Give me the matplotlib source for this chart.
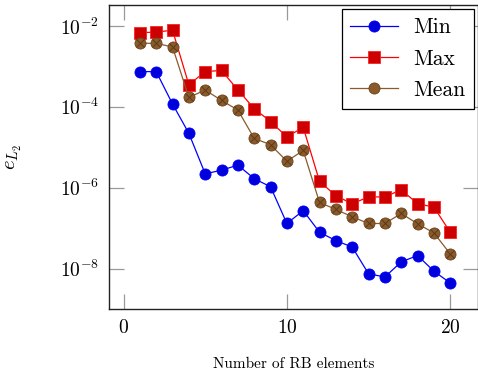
import numpy as np
import matplotlib
matplotlib.use("Agg")
import matplotlib.pyplot as plt

plt.rcParams['font.family'] = 'serif'
plt.rcParams['font.serif'] = ['cmr10', 'DejaVu Serif']
plt.rcParams['mathtext.fontset'] = 'cm'
plt.rcParams['axes.formatter.use_mathtext'] = True

n_rb = list(range(1, 21))
err_min = [7.4e-4, 7.4e-4, 1.17e-4, 2.2e-5, 2.2e-6, 2.7e-6, 3.6e-6, 1.67e-6, 1.05e-6, 1.3e-7,
           2.7e-7, 7.9e-8, 4.9e-8, 3.4e-8, 7.4e-9, 6.2e-9, 1.46e-8, 2.1e-8, 8.6e-9, 4.4e-9]
err_max = [6.8e-3, 7.0e-3, 7.8e-3, 3.5e-4, 7.4e-4, 7.9e-4, 2.6e-4, 9.0e-5, 4.3e-5, 1.8e-5,
           3.1e-5, 1.43e-6, 6.3e-7, 4.0e-7, 5.9e-7, 5.9e-7, 8.9e-7, 4.0e-7, 3.3e-7, 7.9e-8]
err_mean = [3.7e-3, 3.7e-3, 3.0e-3, 1.7e-4, 2.6e-4, 1.43e-4, 8.3e-5, 1.65e-5, 1.15e-5, 4.5e-6,
            8.3e-6, 4.3e-7, 2.9e-7, 1.9e-7, 1.3e-7, 1.3e-7, 2.3e-7, 1.28e-7, 7.6e-8, 2.3e-8]

fig = plt.figure(figsize=(4.78, 3.75), dpi=100)
ax = fig.add_axes([0.228, 0.176, 0.772, 0.811])

ax.plot(n_rb, err_min, color='#0000FF', lw=0.9, marker='o', ms=8,
        mfc='#0000DD', mec='#0000FF', mew=0.6, label='Min')
ax.plot(n_rb, err_max, color='#FF0000', lw=0.9, marker='s', ms=8,
        mfc='#CC0000', mec='#FF2020', mew=0.6, label='Max')
ax.plot(n_rb, err_mean, color='#8B5A2B', lw=0.9, marker='o', ms=8,
        mfc='#8B5A2B', mec='#6B4420', mew=0.6, label='Mean')
ax.plot(n_rb, err_mean, ls='none', marker='x', ms=5.5, mec='#5A3A1A', mew=0.7)

ax.set_yscale('log')
ax.set_xlim(-0.89, 21.7)
ax.set_ylim(1.0e-9, 3.3e-2)
ax.set_xticks([0, 10, 20])
ax.set_yticks([1e-2, 1e-4, 1e-6, 1e-8])
ax.minorticks_off()
ax.tick_params(direction='in', length=11, width=0.9, color='#999999',
               top=True, right=True, labelsize=14, pad=7)

for s in ax.spines.values():
    s.set_linewidth(1.0)
    s.set_color('#222222')

ax.set_xlabel('Number of RB elements', fontsize=11, labelpad=15)
ax.set_ylabel(r'$e_{L_2}$', fontsize=15, labelpad=26)

handles, labels = ax.get_legend_handles_labels()
leg = ax.legend(handles[:3], labels[:3], loc='upper right', fontsize=15.5,
                fancybox=False, edgecolor='black', framealpha=1,
                borderaxespad=0.2, handlelength=2.2, handletextpad=0.7,
                labelspacing=0.55, borderpad=0.4)
leg.get_frame().set_linewidth(0.9)

fig.savefig('out.png', dpi=100)
